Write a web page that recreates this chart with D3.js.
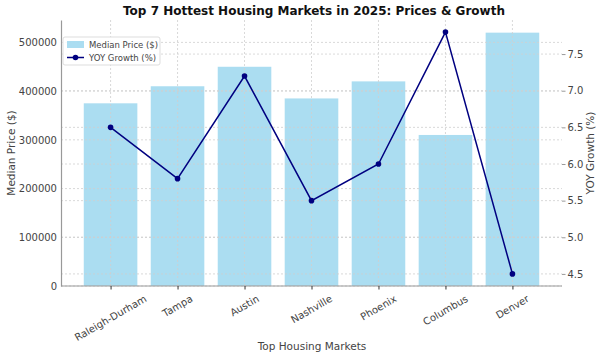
<!DOCTYPE html>
<html>
<head>
<meta charset="utf-8">
<script src="https://cdn.jsdelivr.net/npm/d3@7"></script>
<style>
  html, body { margin: 0; padding: 0; background: #fff; }
  svg, svg text { font-family: "DejaVu Sans", sans-serif; }
  svg { display: block; }
</style>
</head>
<body>
<svg id="chart" width="600" height="358"></svg>
<script>
const markets = ["Raleigh-Durham", "Tampa", "Austin", "Nashville", "Phoenix", "Columbus", "Denver"];
const medianPrice = [375000, 410000, 450000, 385000, 420000, 310000, 520000];
const yoyGrowth = [6.5, 5.8, 7.2, 5.5, 6.0, 7.8, 4.5];
const priceTicks = [0, 100000, 200000, 300000, 400000, 500000];
const growthTicks = [4.5, 5.0, 5.5, 6.0, 6.5, 7.0, 7.5];

const svg = d3.select("#chart");
const L = 61, R = 562, T = 20, B = 286;

const x = d3.scaleLinear().domain([-0.74, markets.length - 1 + 0.74]).range([L, R]);
const yL = d3.scaleLinear().domain([0, 546000]).range([B, T]);
const yR = d3.scaleLinear().domain([4.335, 7.965]).range([B, T]);
const barW = x(0.8) - x(0);

const gridColor = "#cfcfcf";
const tickColor = "#444";

// bars
svg.append("g").selectAll("rect").data(medianPrice).join("rect")
  .attr("x", (d, i) => x(i) - barW / 2)
  .attr("width", barW)
  .attr("y", d => yL(d))
  .attr("height", d => B - yL(d))
  .attr("fill", "#87CEEB").attr("fill-opacity", 0.7);

// grids
const grid = svg.append("g");
grid.selectAll(".gx").data(markets).join("line")
  .attr("x1", (d, i) => x(i)).attr("x2", (d, i) => x(i))
  .attr("y1", T).attr("y2", B)
  .attr("stroke", gridColor).attr("stroke-width", 0.8).attr("stroke-dasharray", "2,2");
grid.selectAll(".gyl").data(priceTicks).join("line")
  .attr("x1", L).attr("x2", R)
  .attr("y1", d => yL(d)).attr("y2", d => yL(d))
  .attr("stroke", gridColor).attr("stroke-width", 0.8).attr("stroke-dasharray", "2,2");
grid.selectAll(".gyr").data(growthTicks).join("line")
  .attr("x1", L).attr("x2", R)
  .attr("y1", d => yR(d)).attr("y2", d => yR(d))
  .attr("stroke", gridColor).attr("stroke-width", 0.8).attr("stroke-dasharray", "2,2");

// axes
const axL = d3.axisLeft(yL).tickValues(priceTicks).tickFormat(d3.format("d")).tickSize(0).tickPadding(4);
const gL = svg.append("g").attr("transform", `translate(${L},0)`).call(axL)
  .attr("font-family", "DejaVu Sans");
gL.select(".domain").attr("stroke", "#999").attr("stroke-width", 1.2);
gL.selectAll("text").attr("fill", tickColor).style("font-size", "10px");

const axR = d3.axisRight(yR).tickValues(growthTicks).tickFormat(d3.format(".1f")).tickSize(3.5).tickPadding(2);
const gR = svg.append("g").attr("transform", `translate(${R},0)`).call(axR)
  .attr("font-family", "DejaVu Sans");
gR.select(".domain").remove();
gR.selectAll("line").attr("stroke", "#999");
gR.selectAll("text").attr("fill", tickColor).style("font-size", "10px");

const axB = d3.axisBottom(x).tickValues(d3.range(markets.length)).tickFormat(i => markets[i]).tickSize(3.5).tickPadding(3);
const gB = svg.append("g").attr("transform", `translate(0,${B})`).call(axB)
  .attr("font-family", "DejaVu Sans");
gB.select(".domain").attr("d", `M${L},0H${R}`).attr("stroke", "#999").attr("stroke-width", 1.2);
gB.selectAll("line").attr("stroke", "#333");
gB.selectAll("text").remove();

// rotated category labels (rotation 30, centred under the tick)
const lab = svg.append("g").selectAll("g").data(markets).join("g");
lab.each(function (d, i) {
  const g = d3.select(this);
  const t = g.append("text").text(d)
    .attr("fill", tickColor).style("font-size", "10px")
    .attr("text-anchor", "middle").attr("dy", "0.35em");
  const w = t.node().getComputedTextLength();
  const h = 11;
  const bh = w * 0.5 + h * 0.866;
  const cy = B + 7 + bh / 2;
  g.attr("transform", `translate(${x(i)},${cy})`);
  t.attr("transform", "rotate(-30)");
});

// line
const line = d3.line().x((d, i) => x(i)).y(d => yR(d));
svg.append("path").datum(yoyGrowth).attr("d", line)
  .attr("fill", "none").attr("stroke", "#000080").attr("stroke-width", 1.5);
svg.append("g").selectAll("circle").data(yoyGrowth).join("circle")
  .attr("cx", (d, i) => x(i)).attr("cy", d => yR(d)).attr("r", 2.8).attr("fill", "#000080");

// labels
svg.append("text").attr("x", 314).attr("y", 15).attr("text-anchor", "middle")
  .style("font-size", "12px").style("font-weight", "bold").attr("fill", "#111")
  .text("Top 7 Hottest Housing Markets in 2025: Prices & Growth");
svg.append("text").attr("x", 312).attr("y", 350).attr("text-anchor", "middle")
  .style("font-size", "10.5px").attr("fill", tickColor).text("Top Housing Markets");
svg.append("text").attr("transform", `translate(15,${(T + B) / 2}) rotate(-90)`).attr("text-anchor", "middle")
  .style("font-size", "10.5px").attr("fill", tickColor).text("Median Price ($)");
svg.append("text").attr("transform", `translate(594,${(T + B) / 2}) rotate(-90)`).attr("text-anchor", "middle")
  .style("font-size", "10.5px").attr("fill", tickColor).text("YOY Growth (%)");

// legend
const lg = svg.append("g").attr("transform", "translate(63,37)");
lg.append("rect").attr("width", 97).attr("height", 28).attr("rx", 2)
  .attr("fill", "#fff").attr("fill-opacity", 0.85).attr("stroke", "#ddd");
lg.append("rect").attr("x", 4).attr("y", 4).attr("width", 17).attr("height", 7)
  .attr("fill", "#87CEEB").attr("fill-opacity", 0.7);
lg.append("text").attr("x", 26).attr("y", 11).style("font-size", "8.5px").attr("fill", tickColor).text("Median Price ($)");
lg.append("line").attr("x1", 4).attr("x2", 21).attr("y1", 20.5).attr("y2", 20.5)
  .attr("stroke", "#000080").attr("stroke-width", 1.5);
lg.append("circle").attr("cx", 12.5).attr("cy", 20.5).attr("r", 2.8).attr("fill", "#000080");
lg.append("text").attr("x", 26).attr("y", 23.5).style("font-size", "8.5px").attr("fill", tickColor).text("YOY Growth (%)");
</script>
</body>
</html>
